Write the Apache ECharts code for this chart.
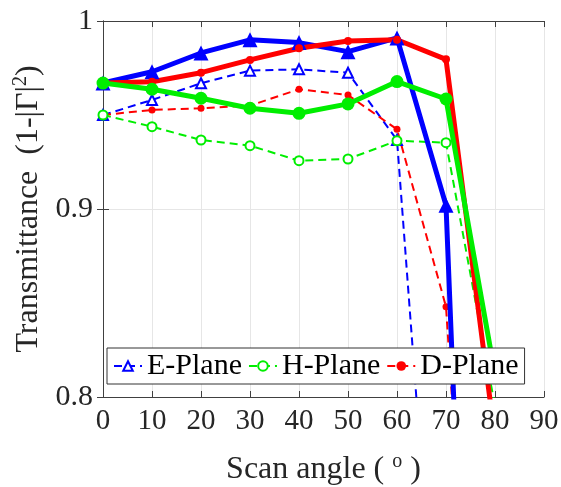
<!DOCTYPE html>
<html>
<head>
<meta charset="utf-8">
<script src="https://cdn.jsdelivr.net/npm/echarts@6/dist/echarts.min.js"></script>
<style>
html,body{margin:0;padding:0;background:#fff;}
#chart{width:561px;height:487px;}
</style>
</head>
<body>
<div id="chart"></div>
<script>
// ---- data ----
var angles = [0, 10, 20, 30, 40, 50, 60, 70, 80];
var xTicks = [0, 10, 20, 30, 40, 50, 60, 70, 80, 90];
var yTicks = ['0.8', '0.9', '1'];
// dashed series (in legend)
var ePlane = [0.950, 0.958, 0.9669, 0.9736, 0.9743, 0.9725, 0.9367, 0.59, 0.40];
var hPlane = [0.950, 0.9438, 0.9367, 0.9337, 0.9257, 0.9266, 0.9363, 0.9353, 0.795];
var dPlane = [0.950, 0.9527, 0.9536, 0.955, 0.9637, 0.9606, 0.9424, 0.848, 0.45];
// solid series (not in legend)
var eSolid = [0.967, 0.973, 0.983, 0.990, 0.9885, 0.9837, 0.991, 0.902, 0.25];
var hSolid = [0.967, 0.9637, 0.9589, 0.9536, 0.9509, 0.9559, 0.9678, 0.9585, 0.812];
var dSolid = [0.967, 0.9677, 0.9725, 0.9793, 0.9855, 0.9894, 0.990, 0.9796, 0.778];

var BLUE = '#0000ff', GREEN = '#00ee00', RED = '#ff0000';
var FONT = '"Liberation Serif", "Times New Roman", serif';
var AX = '#404040';

function pts(vals) {
  return angles.map(function (a, i) {
    var p = [a, vals[i]];
    return i === angles.length - 1 ? { value: p, symbol: 'none' } : p;
  });
}

function mk(name, vals, color, opts) {
  return {
    name: name,
    type: 'line',
    data: pts(vals),
    clip: true,
    symbol: opts.symbol,
    symbolSize: opts.size,
    lineStyle: { color: color, width: opts.width, type: opts.dash ? [8, 5] : 'solid' },
    itemStyle: {
      color: opts.fill ? color : '#ffffff',
      borderColor: color,
      borderWidth: opts.fill ? 0 : 2
    },
    emphasis: { disabled: true },
    animation: false,
    z: opts.z
  };
}

var chart = echarts.init(document.getElementById('chart'), null, { renderer: 'canvas' });
var option = {
  backgroundColor: '#ffffff',
  animation: false,
  grid: { left: 103, right: 17, top: 21, bottom: 90, containLabel: false, outerBoundsMode: 'none' },
  legend: {
    data: ['E-Plane', 'H-Plane', 'D-Plane'],
    left: 107, top: 348,
    orient: 'horizontal',
    itemWidth: 28, itemHeight: 12, itemGap: 6,
    padding: [3, 6, 3, 6],
    backgroundColor: '#ffffff',
    borderColor: '#333333', borderWidth: 1, borderRadius: 0,
    textStyle: { fontFamily: FONT, fontSize: 30, color: '#000000', padding: [0, 0, 0, 0] },
    z: 10
  },
  xAxis: [{
    type: 'value', min: 0, max: 90, interval: 10, position: 'bottom',
    axisLine: { show: true, lineStyle: { color: AX, width: 1 } },
    axisTick: { show: true, inside: true, length: 6, lineStyle: { color: AX } },
    axisLabel: {
      fontFamily: FONT, fontSize: 29, color: '#262626', margin: 10,
      formatter: function (v) { return xTicks.indexOf(v) >= 0 ? String(v) : ''; }
    },
    splitLine: { show: true, lineStyle: { color: '#e6e6e6', width: 1 } },
    name: '{t|Scan angle ( }{s|o}{t| )}',
    nameLocation: 'middle', nameGap: 55,
    nameTextStyle: {
      rich: {
        t: { fontFamily: FONT, fontSize: 32, color: '#262626' },
        s: { fontFamily: FONT, fontSize: 20, color: '#262626', padding: [0, 0, 15, 0] }
      }
    }
  }, {
    type: 'value', min: 0, max: 90, interval: 10, position: 'top',
    axisLine: { show: true, lineStyle: { color: AX, width: 1 } },
    axisTick: { show: true, inside: true, length: 6, lineStyle: { color: AX } },
    axisLabel: { show: false }, splitLine: { show: false }
  }],
  yAxis: [{
    type: 'value', min: 0.8, max: 1, interval: 0.1, position: 'left',
    axisLine: { show: true, lineStyle: { color: AX, width: 1 } },
    axisTick: { show: true, inside: true, length: 6, lineStyle: { color: AX } },
    axisLabel: {
      fontFamily: FONT, fontSize: 30, color: '#262626', margin: 10,
      formatter: function (v) { return yTicks[Math.round((v - 0.8) * 10)]; }
    },
    splitLine: { show: true, lineStyle: { color: '#e6e6e6', width: 1 } },
    name: '{t|Transmittance  (1-|Γ|}{s|2}{t|)}',
    nameLocation: 'middle', nameGap: 48, nameRotate: 90,
    nameTextStyle: {
      rich: {
        t: { fontFamily: FONT, fontSize: 32, color: '#262626' },
        s: { fontFamily: FONT, fontSize: 20, color: '#262626', padding: [0, 0, 15, 0] }
      }
    }
  }, {
    type: 'value', min: 0.8, max: 1, interval: 0.1, position: 'right',
    axisLine: { show: true, lineStyle: { color: AX, width: 1 } },
    axisTick: { show: true, inside: true, length: 6, lineStyle: { color: AX } },
    axisLabel: { show: false }, splitLine: { show: false }
  }],
  series: [
    mk('E-Plane', ePlane, BLUE, { symbol: 'triangle', size: 10, width: 2, dash: true, fill: false, z: 2 }),
    mk('D-Plane', dPlane, RED, { symbol: 'circle', size: 7, width: 2, dash: true, fill: true, z: 2 }),
    mk('H-Plane', hPlane, GREEN, { symbol: 'circle', size: 9, width: 2, dash: true, fill: false, z: 2 }),
    mk('E solid', eSolid, BLUE, { symbol: 'triangle', size: 15, width: 5, dash: false, fill: true, z: 3 }),
    mk('D solid', dSolid, RED, { symbol: 'circle', size: 8, width: 5, dash: false, fill: true, z: 3 }),
    mk('H solid', hSolid, GREEN, { symbol: 'circle', size: 13, width: 5, dash: false, fill: true, z: 3 })
  ]
};
chart.setOption(option);
</script>
</body>
</html>
